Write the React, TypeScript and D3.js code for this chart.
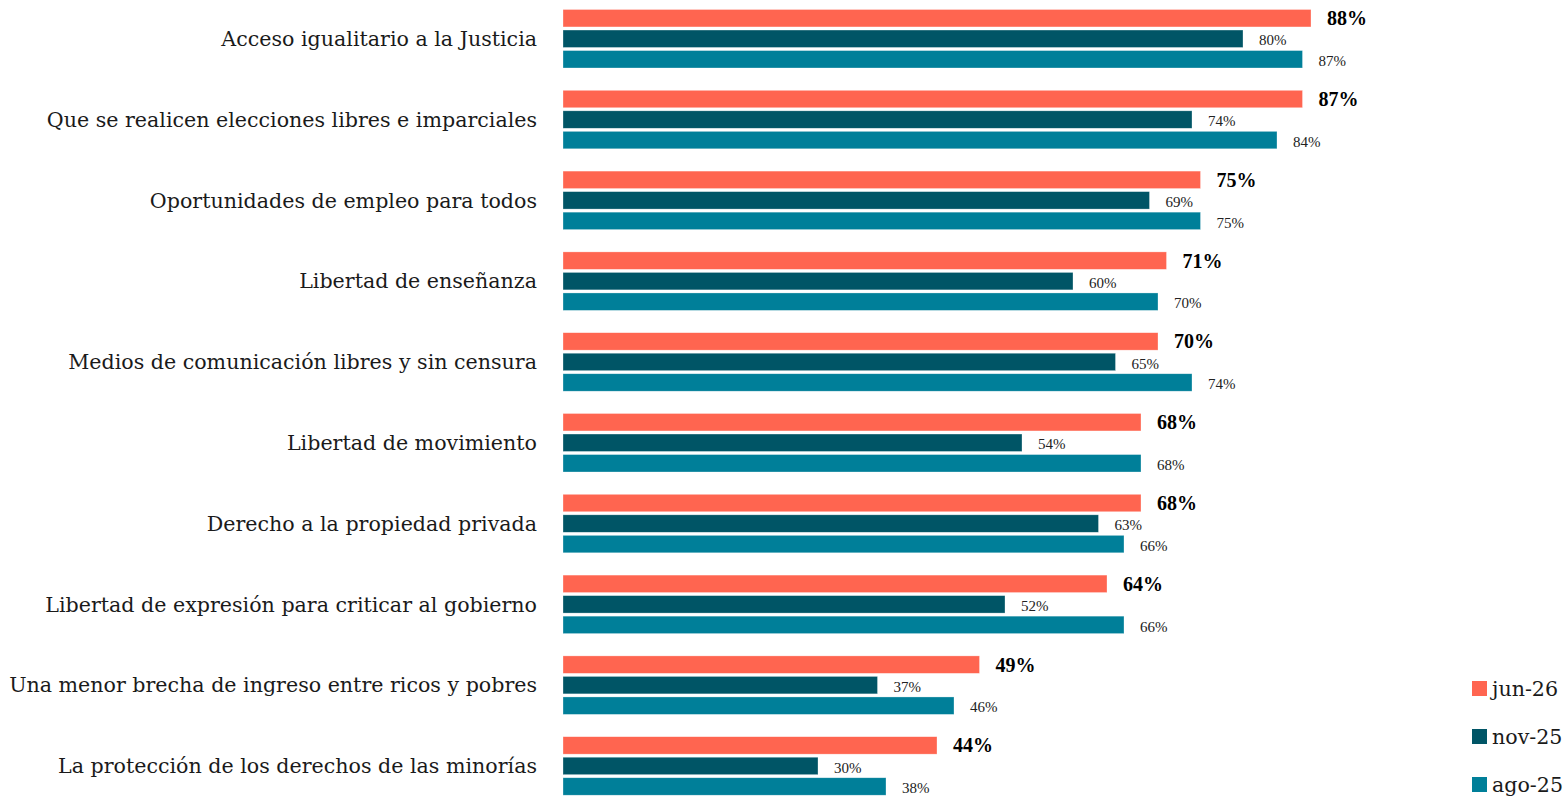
import React from "react";
import * as d3 from "d3";

const categories = [
  "Acceso igualitario a la Justicia",
  "Que se realicen elecciones libres e imparciales",
  "Oportunidades de empleo para todos",
  "Libertad de enseñanza",
  "Medios de comunicación libres y sin censura",
  "Libertad de movimiento",
  "Derecho a la propiedad privada",
  "Libertad de expresión para criticar al gobierno",
  "Una menor brecha de ingreso entre ricos y pobres",
  "La protección de los derechos de las minorías",
];
const seriesNames = ["jun-26", "nov-25", "ago-25"];
const jun26 = [88, 87, 75, 71, 70, 68, 68, 64, 49, 44];
const nov25 = [80, 74, 69, 60, 65, 54, 63, 52, 37, 30];
const ago25 = [87, 84, 75, 70, 74, 68, 66, 66, 46, 38];
const seriesValues = [jun26, nov25, ago25];
const colors = ["#FF6550", "#005566", "#007F99"];

const W = 1568;
const H = 796;
const FONT = "'Liberation Serif', 'Times New Roman', serif";
const LABEL_FONT = "'DejaVu Serif', serif";

export default function App() {
  const x = d3.scaleLinear().domain([0, 100]).range([563, 563 + 850]);
  const y = d3
    .scaleBand<string>()
    .domain(categories)
    .range([9.5, 9.5 + 80.8 * (categories.length - 0.276)])
    .paddingInner(0.276)
    .paddingOuter(0);
  const inner = d3
    .scaleBand<string>()
    .domain(seriesNames)
    .range([0, y.bandwidth()])
    .paddingInner(0.15);

  return (
    <svg
      width={W}
      height={H}
      style={{ position: "fixed", left: 0, top: 0, background: "#fff" }}
    >
      {categories.map((c, i) => {
        const gy = y(c)!;
        return (
          <g key={c}>
            <text
              x={537}
              y={gy + inner("nov-25")! + inner.bandwidth() / 2}
              dy="0.35em"
              textAnchor="end"
              fontFamily={LABEL_FONT}
              fontSize={20.6}
              fill="#1a1a1a"
            >
              {c}
            </text>
            {seriesNames.map((s, si) => {
              const v = seriesValues[si][i];
              const by = gy + inner(s)!;
              const bold = si === 0;
              return (
                <g key={s}>
                  <rect
                    x={x(0)}
                    y={by}
                    width={x(v) - x(0)}
                    height={inner.bandwidth()}
                    fill={colors[si]}
                    stroke="#fff"
                    strokeOpacity={0.5}
                    strokeWidth={0.6}
                  />
                  <text
                    x={x(v) + 16}
                    y={by + inner.bandwidth() / 2 + (bold ? 0 : 1.5)}
                    dy="0.35em"
                    fontFamily={FONT}
                    fontSize={bold ? 20 : 15}
                    fontWeight={bold ? "bold" : "normal"}
                    fill={bold ? "#000" : "#222"}
                  >
                    {v}%
                  </text>
                </g>
              );
            })}
          </g>
        );
      })}
      {seriesNames.map((s, si) => (
        <g key={s} transform={`translate(1472, ${681 + si * 48})`}>
          <rect width={15} height={15} fill={colors[si]} />
          <text
            x={20}
            y={8}
            dy="0.35em"
            fontFamily={LABEL_FONT}
            fontSize={20.6}
            fill="#1a1a1a"
          >
            {s}
          </text>
        </g>
      ))}
    </svg>
  );
}
